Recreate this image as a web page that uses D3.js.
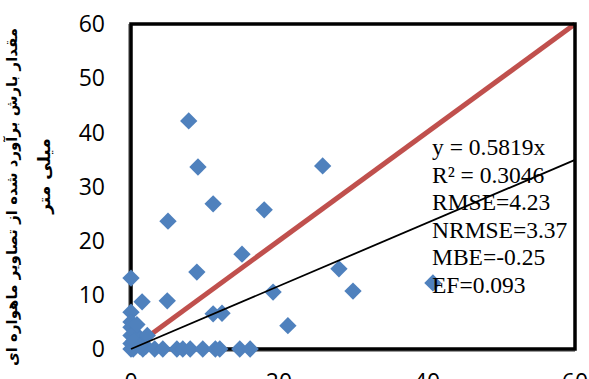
<!DOCTYPE html>
<html>
<head>
<meta charset="utf-8">
<script src="https://cdn.jsdelivr.net/npm/d3@7"></script>
<style>
  body { margin: 0; background: #fff; }
  svg { display: block; }
</style>
</head>
<body>
<div id="chart"></div>
<script>
const obsX = [0, 0, 0, 0, 0, 0, 0, 0.5, 1, 1.5, 2, 0.3, 1.6, 3.2, 4.3, 6.2, 7.0, 8.0, 9.7, 11.4, 12.0, 14.7, 16.1,
              1.5, 4.9, 11.1, 12.3, 19.2, 21.2, 8.9, 15.0, 5.0, 7.8, 9.05, 11.1, 18.0, 25.9, 28.1, 30.0, 40.8,
              0.8, 2.2, 0.4, 1.2];
const estY = [13.1, 6.8, 5.0, 4.0, 2.5, 1.0, 0, 3.0, 2.0, 1.0, 0.5, 0, 0, 0, 0, 0, 0, 0, 0, 0, 0, 0, 0,
              8.7, 8.9, 6.5, 6.6, 10.5, 4.3, 14.2, 17.5, 23.6, 42.1, 33.6, 26.8, 25.7, 33.8, 14.8, 10.7, 12.2,
              4.5, 2.5, 1.5, 0.5];
const xTicks = [0, 20, 40, 60];
const yTicks = [0, 10, 20, 30, 40, 50, 60];
const slope = 0.5819;
const statLines = ["y = 0.5819x", "R² = 0.3046", "RMSE=4.23", "NRMSE=3.37", "MBE=-0.25", "EF=0.093"];
const yTitle = ["مقدار بارش برآورد شده از تصاویر ماهواره ای", "میلی متر"];

const width = 589, height = 379;
const margin = {top: 24, right: 14, bottom: 30, left: 131};

const svg = d3.select("#chart").append("svg")
    .attr("width", width)
    .attr("height", height);

const x = d3.scaleLinear().domain([0, 60]).range([margin.left, width - margin.right]);
const y = d3.scaleLinear().domain([0, 60]).range([height - margin.bottom, margin.top]);

// 1:1 line (red) under the markers
svg.append("line")
    .attr("x1", x(0)).attr("y1", y(0))
    .attr("x2", x(60)).attr("y2", y(60))
    .style("stroke", "#C0504D")
    .style("stroke-width", 5);

// frame with a little grey shadow on left and bottom
svg.append("line")
    .attr("x1", x(0) - 2).attr("x2", x(0) - 2)
    .attr("y1", y(60)).attr("y2", y(0) + 2)
    .style("stroke", "#999").style("stroke-width", 2);
svg.append("line")
    .attr("x1", x(0) - 2).attr("x2", x(60))
    .attr("y1", y(0) + 2).attr("y2", y(0) + 2)
    .style("stroke", "#999").style("stroke-width", 2);
svg.append("rect")
    .attr("x", x(0)).attr("y", y(60))
    .attr("width", x(60) - x(0))
    .attr("height", y(0) - y(60))
    .style("fill", "none")
    .style("stroke", "#000")
    .style("stroke-width", 3.5);

// markers
const diamond = d3.symbol().type(d3.symbolSquare).size(150);
svg.append("g").selectAll("path")
    .data(obsX.map((v, i) => ({x: v, y: estY[i]})))
    .enter()
    .append("path")
    .attr("d", diamond)
    .attr("transform", d => `translate(${x(d.x)},${y(d.y)}) rotate(45)`)
    .style("fill", "#4F81BD");

// linear trendline through origin
svg.append("line")
    .attr("x1", x(0)).attr("y1", y(0))
    .attr("x2", x(60)).attr("y2", y(60 * slope))
    .style("stroke", "#000")
    .style("stroke-width", 1.8);

// tick labels
svg.append("g").selectAll("text")
    .data(yTicks)
    .enter()
    .append("text")
    .attr("x", 105)
    .attr("y", d => y(d))
    .attr("dy", "0.36em")
    .attr("text-anchor", "end")
    .style("font-family", "'Open Sans', 'Liberation Sans', sans-serif")
    .style("font-size", "23px")
    .text(d => d);

svg.append("g").selectAll("text")
    .data(xTicks)
    .enter()
    .append("text")
    .attr("x", d => x(d))
    .attr("y", 390)
    .attr("text-anchor", "middle")
    .style("font-family", "'Open Sans', 'Liberation Sans', sans-serif")
    .style("font-size", "23px")
    .text(d => d);

// statistics box
svg.append("g").selectAll("text")
    .data(statLines)
    .enter()
    .append("text")
    .attr("x", 432)
    .attr("y", (d, i) => 155 + i * 27.6)
    .style("font-family", "'Liberation Serif', 'Times New Roman', serif")
    .style("font-size", "23.5px")
    .text(d => d);

// y axis title (Persian), first line cut at the left edge
svg.append("text")
    .attr("transform", "translate(17,197) rotate(-90)")
    .attr("text-anchor", "middle")
    .style("font-family", "'DejaVu Sans', sans-serif")
    .style("font-weight", "bold")
    .style("font-size", "15px")
    .text(yTitle[0]);
svg.append("text")
    .attr("transform", "translate(50,176) rotate(-90)")
    .attr("text-anchor", "middle")
    .style("font-family", "'DejaVu Sans', sans-serif")
    .style("font-weight", "bold")
    .style("font-size", "17px")
    .text(yTitle[1]);
</script>
</body>
</html>
